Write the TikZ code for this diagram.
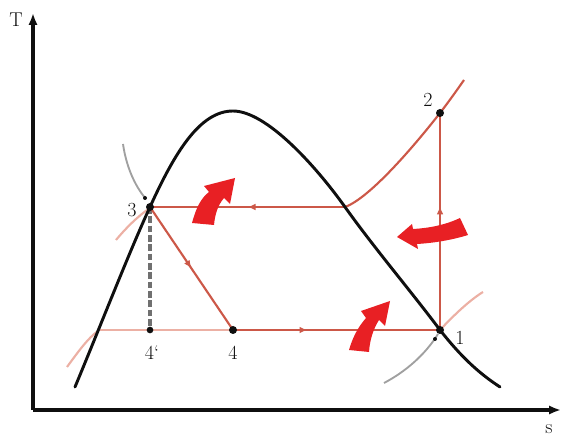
\documentclass[tikz,border=0pt]{standalone}
\usetikzlibrary{arrows.meta,decorations.markings}
\definecolor{cyc}{RGB}{204,88,72}
\definecolor{pale}{RGB}{236,176,164}
\definecolor{ghost}{RGB}{160,160,160}
\definecolor{blk}{RGB}{15,15,15}
\definecolor{hot}{RGB}{232,32,36}
\begin{document}
\begin{tikzpicture}[x=0.75pt,y=-0.75pt,
  axisline/.style={blk,line width=2.4pt,-{Latex[length=9pt,width=7pt]}},
  dome/.style={blk,line width=2.2pt,line cap=round},
  cycline/.style={cyc,line width=1.6pt},
  paleline/.style={pale,line width=1.6pt},
  greyline/.style={ghost,line width=1.4pt},
  midarrow/.style={postaction={decorate},decoration={markings,mark=at position #1 with {\arrow{Latex[length=6pt,width=5pt]}}}},
  dot/.style={circle,fill=blk,inner sep=0pt,minimum size=6pt},
  lbl/.style={font=\fontsize{15}{18}\selectfont,text=blk,inner sep=1pt},
  block/.style={fill=hot,draw=none}]
\useasboundingbox (0,0) rectangle (564,441);
% axes
\coordinate (O) at (33,410);
\coordinate (Ty) at (33,13);
\coordinate (Sx) at (561,410);
\draw[axisline] (O) -- (Ty);
\draw[axisline] (O) -- (Sx);
\node[lbl] (tl) at (16,20) {T};
\node[lbl] (sl) at (549,429) {s};
% cycle points
\coordinate (p1) at (440,330);
\coordinate (p2) at (440,113);
\coordinate (p3) at (150,207);
\coordinate (p4) at (233,330);
\coordinate (p4p) at (150,330);
\coordinate (q) at (345,207);
% faint isobar pieces
\draw[paleline] (67,367) .. controls (78,352) and (88,338) .. (98,331);
\draw[paleline] (98,330) -- (p4);
\draw[paleline] (116,240) .. controls (126,228) and (138,216) .. (150,208);
\draw[paleline] (p1) .. controls (455,314) and (470,300) .. (483,292);
\draw[greyline] (123,144) .. controls (126,165) and (134,185) .. (146,199);
\draw[greyline] (384,383) .. controls (405,372) and (425,355) .. (438,334);
% dashed line 3 - 4'
\draw[ghost!70!black,line width=3pt,dash pattern=on 5pt off 2pt] (p3) -- (p4p);
% cycle
\draw[cycline,midarrow=0.5] (q) -- (p3);
\draw[cycline,midarrow=0.5] (p3) -- (p4);
\draw[cycline,midarrow=0.36] (p4) -- (p1);
\draw[cycline,midarrow=0.57] (p1) -- (p2);
\draw[cycline] (q) .. controls (370,198) and (415,145) .. (p2) .. controls (450,100) and (457,90) .. (464,80);
% dome
\draw[dome] (75,387) .. controls (100,327) and (130,250) .. (p3)
  .. controls (175,152) and (200,111) .. (233,111)
  .. controls (266,111) and (315,165) .. (q)
  .. controls (375,249) and (410,290) .. (p1)
  .. controls (462,358) and (480,374) .. (500,387);
% dots
\node[dot] (d1) at (p1) {};
\node[dot] (d2) at (p2) {};
\node[dot] (d3) at (p3) {};
\node[dot] (d4) at (p4) {};
\node[dot,minimum size=5pt] (d4p) at (p4p) {};
\node[circle,fill=blk,inner sep=0pt,minimum size=3pt] (s3) at (145,198) {};
\node[circle,fill=blk,inner sep=0pt,minimum size=3pt] (s1) at (435,339) {};
% labels
\node[lbl] (l1) at (460,338) {1};
\node[lbl] (l2) at (428,100) {2};
\node[lbl] (l3) at (132,210) {3};
\node[lbl] (l4) at (233,353) {4};
\node[lbl] (l4p) at (152,353) {4\textquoteleft};
% block arrows
\fill[block] (192,223) .. controls (196,208) and (201,198) .. (209,192)
  -- (204,186) -- (235,178) -- (230,204) -- (224,198)
  .. controls (218,205) and (215,214) .. (214,225) -- cycle;
\fill[block] (349,350) .. controls (353,336) and (359,326) .. (366,318)
  -- (361,311) -- (390,301) -- (385,326) -- (379,320)
  .. controls (374,328) and (370,338) .. (369,352) -- cycle;
\fill[block] (460,218) .. controls (445,225) and (430,228) .. (413,229)
  -- (412,224) -- (397,237) -- (418,249) -- (417,244)
  .. controls (434,243) and (452,240) .. (468,235) -- cycle;
\end{tikzpicture}
\end{document}
